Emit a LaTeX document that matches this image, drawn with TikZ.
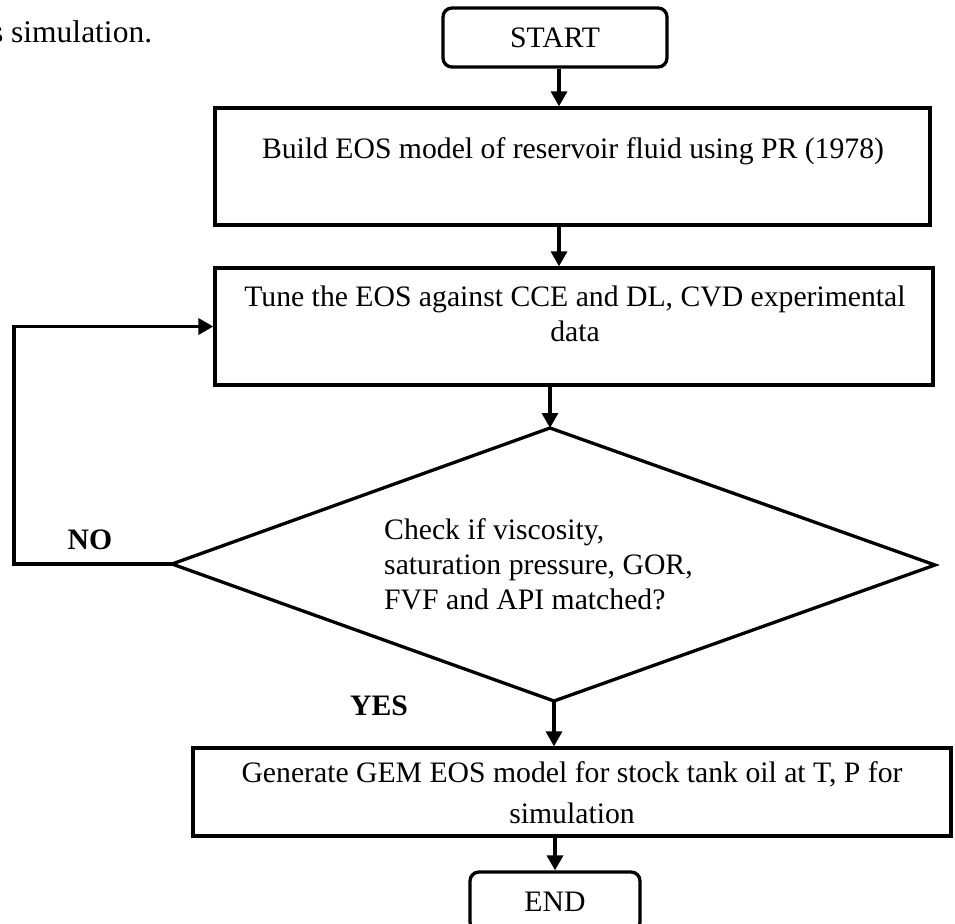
\documentclass[tikz,border=0pt]{standalone}
\usepackage{fontspec}
\setmainfont{Liberation Serif}
\usetikzlibrary{arrows.meta}
\begin{document}
\begin{tikzpicture}[x=1pt,y=-1pt,
  every node/.style={font=\fontsize{29.7}{35}\selectfont},
  flowbox/.style={draw, line width=3.3pt, inner sep=0pt},
  roundbox/.style={flowbox, rounded corners=9pt},
  txt/.style={align=center, inner sep=0pt},
  flowarr/.style={line width=3.3pt, -{Triangle[width=16pt,length=15pt]}},
  flowline/.style={line width=3.3pt}]
\useasboundingbox (0,0) rectangle (955,923);
\clip (0,0) rectangle (955,923);
% caption fragment
\node[anchor=base west, inner sep=0pt, font=\fontsize{31.5}{36}\selectfont] (cap) at (-9.1,43) {s simulation.};
% boxes
\node[roundbox, minimum width=224pt, minimum height=59pt] (start) at (555,37.5) {START};
\node[flowbox, minimum width=715pt, minimum height=117pt] (build) at (572.5,166.5) {};
\node[txt] (buildt) at (573,151) {Build EOS model of reservoir fluid using PR (1978)};
\node[flowbox, minimum width=718pt, minimum height=117pt] (tune) at (574,326.5) {};
\node[txt] (tunet) at (575,314) {Tune the EOS against CCE and DL, CVD experimental\\data};
\node[flowbox, minimum width=758pt, minimum height=88pt] (gen) at (572,792) {};
\node[txt, font=\fontsize{29.7}{41}\selectfont] (gent) at (572,793) {Generate GEM EOS model for stock tank oil at T, P for\\simulation};
\node[roundbox, minimum width=170pt, minimum height=59pt] (end) at (555,901.5) {END};
% diamond
\coordinate (dt) at (550,428);
\coordinate (dr) at (935,565);
\coordinate (db) at (554,701);
\coordinate (dl) at (172,564);
\draw[flowline, line join=miter] (dt) -- (dr) -- (db) -- (dl) -- cycle;
\node[anchor=west, align=left, inner sep=0pt] (q) at (384,564) {Check if viscosity,\\saturation pressure, GOR,\\FVF and API matched?};
% labels
\node[font=\fontsize{29.7}{35}\selectfont\bfseries, inner sep=0pt] (no) at (90,540) {NO};
\node[font=\fontsize{29.7}{35}\selectfont\bfseries, inner sep=0pt] (yes) at (379,706) {YES};
% connectors
\coordinate (a1) at (559,0);
\coordinate (a2) at (550,0);
\coordinate (lc) at (14,564);
\draw[flowarr] (a1 |- start.south) -- (a1 |- build.north);
\draw[flowarr] (a1 |- build.south) -- (a1 |- tune.north);
\draw[flowarr] (a2 |- tune.south) -- (dt);
\draw[flowarr] (db) -- (db |- gen.north);
\draw[flowarr] (gen.south -| end.north) -- (end.north);
\draw[flowarr] (dl) -- (lc) |- (tune.west);
\end{tikzpicture}
\end{document}
